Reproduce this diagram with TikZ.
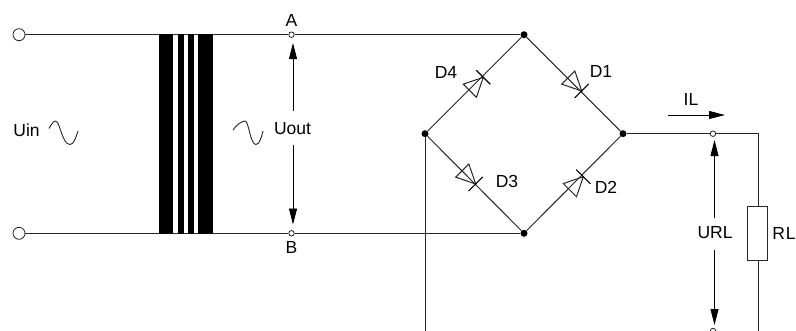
\documentclass[tikz,border=0pt]{standalone}
\usepackage{fontspec}
\setmainfont{Liberation Sans}
\usetikzlibrary{arrows.meta}
\tikzset{
  wire/.style={line width=1pt,black!85},
  terminal/.style={circle,draw=black!85,fill=white,line width=0.8pt,inner sep=0pt,minimum size=12pt},
  tap/.style={circle,draw=black!85,fill=white,line width=0.8pt,inner sep=0pt,minimum size=5.5pt},
  dot/.style={circle,fill=black,inner sep=0pt,minimum size=7pt},
  corebar/.style={fill=black,draw=none,inner sep=0pt,minimum height=200pt},
  lab/.style={inner sep=0pt,font=\fontsize{17.5}{19}\selectfont},
  volt/.style={line width=0.9pt,black,-{Triangle[length=16pt,width=8pt]}},
  resistor/.style={draw=black!85,fill=white,line width=1pt,inner sep=0pt,minimum width=20pt,minimum height=54pt},
  wave/.style={line width=0.9pt,black!85},
  diodesym/.pic={
    \draw[line width=1pt,black!85,line join=miter] (0,0) -- (-19,9.3) -- (-19,-9.3) -- cycle;
    \draw[line width=1.1pt,black] (0,10) -- (0,-10);
  }
}
\begin{document}
\begin{tikzpicture}[x=1pt,y=-1pt]
\useasboundingbox (0,0) rectangle (796,330);
\clip (0,0) rectangle (796,330);
% junctions and terminals
\node[terminal] (inA) at (19,34.7) {};
\node[terminal] (inB) at (19,233.3) {};
\node[tap] (A) at (291.5,34.7) {};
\node[tap] (B) at (291.5,233.3) {};
\node[dot] (top) at (524,34.7) {};
\node[dot] (left) at (425,133.7) {};
\node[dot] (right) at (623,133.7) {};
\node[dot] (bot) at (524,233.3) {};
\node[tap] (outP) at (713,133.7) {};
\node[tap] (outN) at (713,331) {};
\coordinate (corner) at (758,133.7);
\coordinate (leftEnd) at (425,335);
\coordinate (rlEnd) at (758,335);
\node[resistor] (RL) at (757,233) {};
% wires
\draw[wire] (inA) -- (A) -- (top);
\draw[wire] (inB) -- (B) -- (bot);
\draw[wire] (top) -- (right);
\draw[wire] (top) -- (left);
\draw[wire] (bot) -- (right);
\draw[wire] (bot) -- (left);
\draw[wire] (right) -- (outP) -- (corner) -- (RL.north -| corner);
\draw[wire] (RL.south -| corner) -- (rlEnd);
\draw[wire] (left) -- (leftEnd);
% transformer core
\node[corebar,minimum width=13.7pt] (c1) at (165.9,134) {};
\node[corebar,minimum width=5.7pt] (c2) at (181.2,134) {};
\node[corebar,minimum width=5.7pt] (c3) at (191.2,134) {};
\node[corebar,minimum width=15pt] (c4) at (205.8,134) {};
% diodes
\pic[rotate=-45] at (581.7,91) {diodesym};
\pic[rotate=45] at (583.3,176.7) {diodesym};
\pic[rotate=-45] at (475.7,184) {diodesym};
\pic[rotate=45] at (483.3,77.3) {diodesym};
% labels
\node[lab] (lA) at (291.5,20) {A};
\node[lab] (lB) at (291.5,247) {B};
\node[lab] (lUin) at (26.5,130) {Uin};
\node[lab] (lUout) at (292.5,128.5) {Uout};
\node[lab] (lD1) at (601,71.5) {D1};
\node[lab] (lD2) at (606,187.5) {D2};
\node[lab] (lD3) at (507,181) {D3};
\node[lab] (lD4) at (446,72) {D4};
\node[lab] (lIL) at (691,99) {IL};
\node[lab] (lURL) at (715,233) {URL};
\node[lab] (lRL) at (784,233) {R\kern1pt L};
% voltage and current arrows
\coordinate (uT) at (293,43);
\coordinate (uTs) at (293,111);
\coordinate (uB) at (293,224.5);
\coordinate (uBs) at (293,144.5);
\draw[volt] (uTs) -- (uT);
\draw[volt] (uBs) -- (uB);
\coordinate (rT) at (714.5,140);
\coordinate (rTs) at (714.5,217.5);
\coordinate (rB) at (714.5,325);
\coordinate (rBs) at (714.5,250);
\draw[volt] (rTs) -- (rT);
\draw[volt] (rBs) -- (rB);
\coordinate (iS) at (668,115);
\coordinate (iE) at (725,115);
\draw[volt] (iS) -- (iE);
% sine marks
\draw[wave] (49,128.5) .. controls (51.5,124) and (53.5,121) .. (55.5,121) .. controls (60,121) and (62,144.5) .. (70,144.5) .. controls (74,144.5) and (76,137) .. (78,131);
\draw[wave] (233,130) .. controls (236,125) and (242,121) .. (245,121) .. controls (249,121) and (250,144.5) .. (256,144.5) .. controls (259.5,144.5) and (261.5,137) .. (263,131);
\end{tikzpicture}
\end{document}
